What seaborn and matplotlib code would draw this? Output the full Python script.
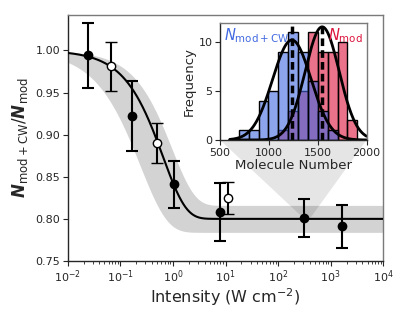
import numpy as np
import pandas as pd
import matplotlib
matplotlib.use("Agg")
import matplotlib.pyplot as plt
from matplotlib.patches import Polygon
import seaborn as sns

# ---------------- data ----------------
I_filled = [0.024, 0.165, 1.03, 8.0, 310.0, 1650.0]
R_filled = [0.994, 0.922, 0.841, 0.808, 0.801, 0.791]
E_filled = [0.039, 0.042, 0.028, 0.034, 0.022, 0.026]

I_open = [0.066, 0.49, 11.2]
R_open = [0.981, 0.890, 0.825]
E_open = [0.029, 0.024, 0.019]

# fit model  y = plateau + (1 - plateau) * exp(-(I/I0)^beta)
fit_params = dict(plateau=0.800, I0=0.65, beta=1.0)
band_upper = dict(plateau=0.816, I0=0.95, beta=1.0)
band_lower = dict(plateau=0.784, I0=0.237, beta=0.85)

# zoom connector target (intensity range, ratio)
zoom_I = [290.0, 420.0]
zoom_R = 0.802

# inset histograms
bin_edges = [692, 793, 894, 995, 1096, 1197, 1298, 1399, 1500, 1601, 1702, 1803, 1904]
blue_counts = [1, 1, 4, 5, 9, 11, 9, 6, 3, 1, 0, 0]
red_counts = [0, 0, 0, 0, 1, 3, 5, 11, 9, 9, 10, 2]
blue_mu, blue_sigma = 1235.0, 197.0
red_mu, red_sigma = 1545.0, 174.0

x_ticks = [1e-2, 1e-1, 1e0, 1e1, 1e2, 1e3, 1e4]
y_ticks = [0.75, 0.80, 0.85, 0.90, 0.95, 1.00]
inset_xticks = [500, 1000, 1500, 2000]
inset_yticks = [0, 5, 10]

BLUE = "royalblue"
RED = "crimson"

# ---------------- style ----------------
sns.set_style("ticks")
plt.rcParams["font.family"] = ["DejaVu Sans"]
plt.rcParams["mathtext.fontset"] = "dejavusans"


def model(I, plateau, I0, beta):
    I = np.asarray(I)
    return plateau + (1 - plateau) * np.exp(-(I / I0) ** beta)


fig = plt.figure(figsize=(4.07, 3.26), dpi=100)
ax = fig.add_axes([0.1663, 0.1994, 0.7756, 0.7546])
ax.set_xscale("log")
ax.set_xlim(1e-2, 1e4)
ax.set_ylim(0.75, 1.042)

Igrid = np.logspace(-2, 4, 800)
ax.fill_between(Igrid, model(Igrid, **band_lower), model(Igrid, **band_upper),
                color="#d3d3d3", lw=0, zorder=0)
sns.lineplot(x=Igrid, y=model(Igrid, **fit_params), color="k", lw=1.5, ax=ax,
             zorder=3, sort=False, estimator=None)

ax.errorbar(I_filled, R_filled, yerr=E_filled, fmt="o", color="k", mfc="k",
            mec="k", ms=6, elinewidth=1.5, capsize=4, capthick=1.5, zorder=4)
ax.errorbar(I_open, R_open, yerr=E_open, fmt="o", color="k", mfc="white",
            mec="k", mew=1.0, ms=6, elinewidth=1.5, capsize=4, capthick=1.5, zorder=4)

ax.set_xticks(x_ticks)
ax.set_yticks(y_ticks)
ax.set_yticklabels([f"{v:.2f}" for v in y_ticks])
ax.tick_params(axis="both", which="major", labelsize=8, length=3.5, width=0.8)
ax.tick_params(axis="x", which="major", pad=1.5)
ax.tick_params(axis="y", which="major", pad=2)
ax.tick_params(axis="x", which="minor", length=2, width=0.6)
ax.set_xlabel("Intensity (W cm$^{-2}$)", fontsize=11.5, labelpad=1)
ax.set_ylabel(r"$\mathbfit{N}_{\mathrm{mod}+\mathrm{CW}}/\mathbfit{N}_{\mathrm{mod}}$",
              fontsize=12, labelpad=4)
for s in ax.spines.values():
    s.set_visible(True)
    s.set_linewidth(1.0)
for s in ("top", "right"):
    ax.spines[s].set_color("#7a7a7a")

# ---------------- inset ----------------
inset_rect = [0.5405, 0.5706, 0.3604, 0.3597]
ins = fig.add_axes(inset_rect)
ins.set_zorder(5)

edges = [float(e) for e in bin_edges]
centers = [0.5 * (a + b) for a, b in zip(edges[:-1], edges[1:])]
red_df = pd.DataFrame({"n": centers, "count": red_counts})
blue_df = pd.DataFrame({"n": centers, "count": blue_counts})
red_df = red_df[red_df["count"] > 0]
blue_df = blue_df[blue_df["count"] > 0]
sns.histplot(data=red_df, x="n", weights="count", bins=edges, color=RED, alpha=0.6,
             edgecolor="k", linewidth=1.0, ax=ins)
sns.histplot(data=blue_df, x="n", weights="count", bins=edges, color=BLUE, alpha=0.6,
             edgecolor="k", linewidth=1.0, ax=ins)

xg = np.linspace(600, 2000, 400)
binw = edges[1] - edges[0]
def gauss(x, mu, sig, n):
    return n * binw / (np.sqrt(2 * np.pi) * sig) * np.exp(-(x - mu) ** 2 / (2 * sig ** 2))
sns.lineplot(x=xg, y=gauss(xg, blue_mu, blue_sigma, sum(blue_counts)), color="k", lw=2, ax=ins)
sns.lineplot(x=xg, y=gauss(xg, red_mu, red_sigma, sum(red_counts)), color="k", lw=2, ax=ins)
for mu in (blue_mu, red_mu):
    ins.axvline(mu, color="k", lw=2.5, ls=(0, (2.2, 1.2)))

ins.set_xlim(500, 2000)
ins.set_ylim(0, 12)
ins.set_xticks(inset_xticks)
ins.set_yticks(inset_yticks)
ins.tick_params(labelsize=8, length=3.5, width=0.8, pad=2)
ins.set_xlabel("Molecule Number", fontsize=9.5, labelpad=1)
ins.set_ylabel("Frequency", fontsize=9.5, labelpad=2)
for s in ins.spines.values():
    s.set_visible(True)
    s.set_linewidth(1.0)
for s in ("top", "right"):
    ins.spines[s].set_color("#7a7a7a")

ins.text(0.03, 0.97, r"$N_{\mathrm{mod}+\mathrm{CW}}$", transform=ins.transAxes,
         color=BLUE, fontsize=10.5, ha="left", va="top")
ins.text(0.975, 0.97, r"$N_{\mathrm{mod}}$", transform=ins.transAxes,
         color=RED, fontsize=10.5, ha="right", va="top")

# ---------------- zoom connector ----------------
fig.canvas.draw()
to_fig = fig.transFigure.inverted()
p_left = to_fig.transform(ax.transData.transform((zoom_I[0], zoom_R)))
p_right = to_fig.transform(ax.transData.transform((zoom_I[1], zoom_R)))
x0, y0 = inset_rect[0], inset_rect[1]
x1 = inset_rect[0] + inset_rect[2]
poly = Polygon([(x0, y0), (x1, y0), tuple(p_right), tuple(p_left)], closed=True,
               transform=fig.transFigure, facecolor="k", alpha=0.1, lw=0, zorder=1)
ax.add_patch(poly)

fig.savefig("out.png", dpi=100)
